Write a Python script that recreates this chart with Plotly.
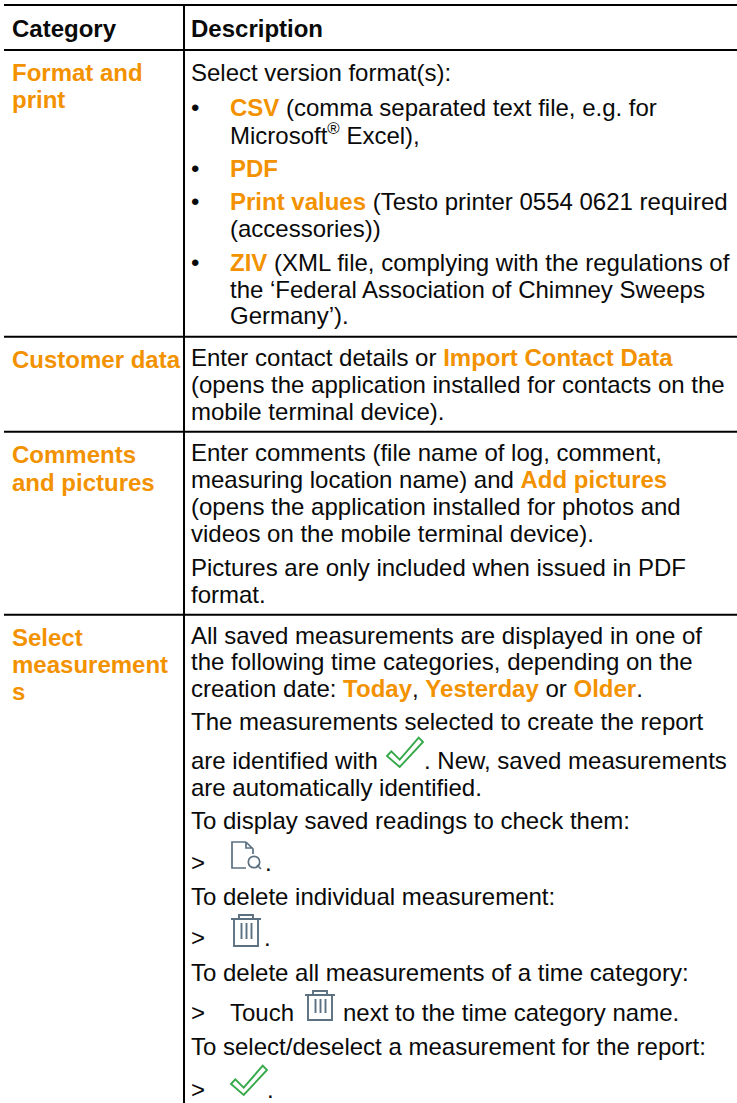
import plotly.graph_objects as go

ORANGE = "#f39200"
INK = "#0a0a0a"
FONT = "Liberation Sans"
SIZE = 24


def o(t):
    return f'<b><span style="color:{ORANGE}">{t}</span></b>'


header_labels = ["<b>Category</b>", "<b>Description</b>"]
header_x = [12, 191]
header_y = [28, 28]

category_labels = [o("Format and"), o("print"), o("Customer data"), o("Comments"),
                   o("and pictures"), o("Select"), o("measurement"), o("s")]
category_x = [12] * 8
category_y = [72, 99, 359, 454, 482, 637, 664, 691]

description_labels = [
    "Select version format(s):",
    "•",
    o("CSV") + " (comma separated text file, e.g. for",
    "Microsoft<sup>®</sup> Excel),",
    "•",
    o("PDF"),
    "•",
    o("Print values") + " (Testo printer 0554 0621 required",
    "(accessories))",
    "•",
    o("ZIV") + " (XML file, complying with the regulations of",
    "the ‘Federal Association of Chimney Sweeps",
    "Germany’).",
    "Enter contact details or " + o("Import Contact Data"),
    "(opens the application installed for contacts on the",
    "mobile terminal device).",
    "Enter comments (file name of log, comment,",
    "measuring location name) and " + o("Add pictures"),
    "(opens the application installed for photos and",
    "videos on the mobile terminal device).",
    "Pictures are only included when issued in PDF",
    "format.",
    "All saved measurements are displayed in one of",
    "the following time categories, depending on the",
    "creation date: " + o("Today") + ", " + o("Yesterday") + " or " + o("Older") + ".",
    "The measurements selected to create the report",
    "are identified with",
    ". New, saved measurements",
    "are automatically identified.",
    "To display saved readings to check them:",
    ">",
    ".",
    "To delete individual measurement:",
    ">",
    ".",
    "To delete all measurements of a time category:",
    ">",
    "Touch",
    "next to the time category name.",
    "To select/deselect a measurement for the report:",
    ">",
    ".",
]
description_x = [
    191,
    191, 230,
    230,
    191, 230,
    191, 230,
    230,
    191, 230,
    230,
    230,
    191, 191, 191,
    191, 191, 191, 191,
    191, 191,
    191, 191, 191,
    191,
    191, 424,
    191,
    191,
    191, 265,
    191,
    191, 264,
    191,
    191, 230, 343,
    191,
    191, 267,
]
description_y = [
    72,
    107, 107,
    134,
    168, 168,
    201, 201,
    228,
    262, 262,
    289,
    315,
    357, 384, 411,
    452, 479, 506, 533,
    567, 594,
    635, 661, 688,
    721,
    760, 760,
    787,
    820,
    862, 862,
    896,
    937, 937,
    972,
    1012, 1012, 1012,
    1046,
    1089, 1089,
]

rule_left = 4
rule_right = 737
rule_rows = [5, 50, 336.7, 431.7, 614.7]
rule_column = 184

CHECK = [(0, 0), (4.3, -4.7), (12.7, 3.7), (31.7, -18.3), (36, -14), (12.7, 11)]
check_at = [(387, 756), (231, 1084)]
trash_at = [(305, 995, 25), (231, 919, 27)]
doc_at = [(232, 841)]
SLATE = "#5b7080"

fig = go.Figure()
annotations = []
for labels, xs, ys in [(header_labels, header_x, header_y),
                       (category_labels, category_x, category_y),
                       (description_labels, description_x, description_y)]:
    for t, x, y in zip(labels, xs, ys, strict=True):
        annotations.append(dict(x=x, y=y, text=t, xref="x", yref="y", showarrow=False,
                                xanchor="left", yanchor="middle", align="left",
                                borderpad=0, borderwidth=0,
                                font=dict(family=FONT, size=SIZE, color=INK)))

shapes = []


def line(x0, x1, y0, y1, w=2, c="#000000"):
    shapes.append(dict(type="line", x0=x0, x1=x1, y0=y0, y1=y1, xref="x", yref="y",
                       line=dict(color=c, width=w)))


def path(p, w=1.4, c=SLATE):
    shapes.append(dict(type="path", path=p, xref="x", yref="y", line=dict(color=c, width=w)))


for y in rule_rows:
    line(rule_left, rule_right, y, y)
line(rule_column, rule_column, 5, 1103)

for cx, cy in check_at:
    pts = [(cx + a, cy + b) for a, b in CHECK]
    path("M" + " L".join(f"{a},{b}" for a, b in pts) + " Z", w=1.9, c="#36a94a")

for tx, ty, h in trash_at:
    path(f"M{tx},{ty} L{tx + 30},{ty} M{tx + 8},{ty} L{tx + 8},{ty - 4} L{tx + 22},{ty - 4} L{tx + 22},{ty} "
         f"M{tx + 3},{ty} L{tx + 3},{ty + h} L{tx + 27},{ty + h} L{tx + 27},{ty} "
         f"M{tx + 10.5},{ty + 4} L{tx + 10.5},{ty + h - 7} M{tx + 15.5},{ty + 4} L{tx + 15.5},{ty + h - 7} "
         f"M{tx + 20.5},{ty + 4} L{tx + 20.5},{ty + h - 7}", w=1.9)

for dx, dy in doc_at:
    path(f"M{dx + 14},{dy + 1} L{dx},{dy + 1} L{dx},{dy + 27} L{dx + 14},{dy + 27} "
         f"M{dx + 14},{dy + 1} L{dx + 21},{dy + 8} L{dx + 21},{dy + 13} "
         f"M{dx + 14},{dy + 1} L{dx + 14},{dy + 7} L{dx + 21},{dy + 7} "
         f"M{dx + 29},{dy + 28} L{dx + 25},{dy + 24}", w=1.7)
    shapes.append(dict(type="circle", xref="x", yref="y", x0=dx + 16.3, x1=dx + 27.7, y0=dy + 15.3, y1=dy + 26.7,
                       line=dict(color=SLATE, width=1.7)))

fig.update_layout(
    width=737, height=1103, margin=dict(l=0, r=0, t=0, b=0),
    paper_bgcolor="white", plot_bgcolor="white", showlegend=False,
    xaxis=dict(range=[0, 737], visible=False, fixedrange=True),
    yaxis=dict(range=[1103, 0], visible=False, fixedrange=True),
    annotations=annotations, shapes=shapes,
)
fig.write_html("out.html", config={"displayModeBar": False},
               post_script="document.body.style.margin='0';")
